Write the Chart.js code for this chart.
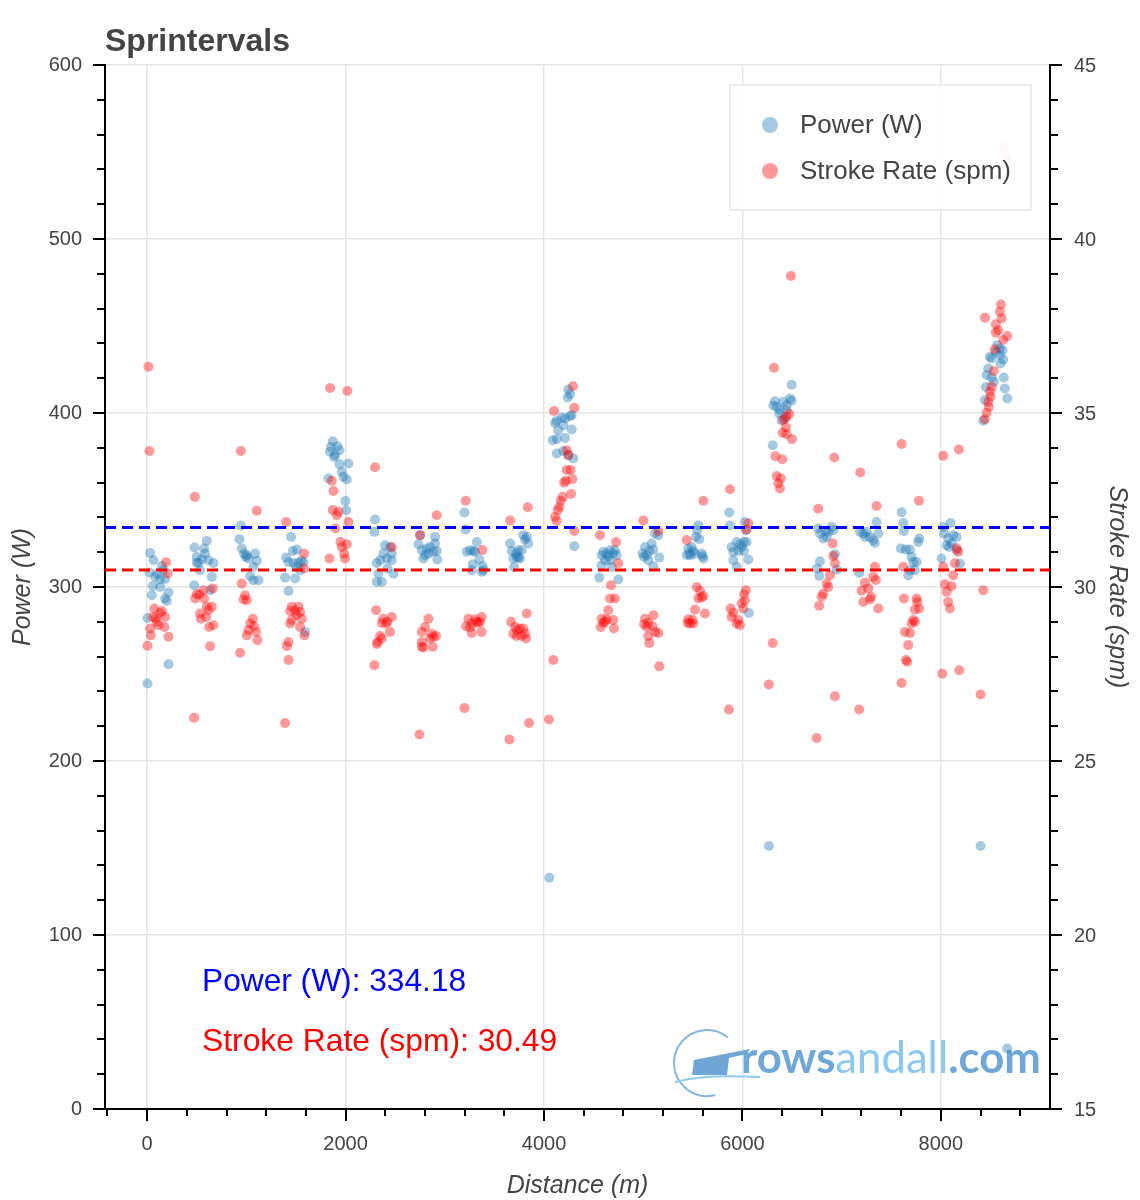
<!DOCTYPE html>
<html>
<head>
<meta charset="utf-8">
<title>Sprintervals</title>
<script src="https://cdn.jsdelivr.net/npm/chart.js@4.4.1/dist/chart.umd.min.js"></script>
<style>
  html, body { margin: 0; background: #fff; }
  #wrap { width: 1140px; height: 1200px; }
</style>
</head>
<body>
<div id="wrap"><canvas id="chart" width="1140" height="1200"></canvas></div>
<script>
// ---- data ----
const chartTitle = 'Sprintervals';
const xTitle = 'Distance (m)';
const yTitle = 'Power (W)';
const y2Title = 'Stroke Rate (spm)';

const xRange = [-425, 9100];
const xTickValues = [0, 2000, 4000, 6000, 8000];
const powerRange = [0, 600];
const rateRange = [15, 45];

const avgPower = 334.18;
const avgRate = 30.49;

const powerDist = [
  30, 64, 23, 148, 104, 164, 81, 131, 181, 57, 131, 215, 47, 181, 198, 3, 215, 3,
  477, 500, 574, 601, 584, 517, 618, 668, 534, 652, 474, 635, 551, 500,
  944, 930, 954, 977, 1004, 1021, 1088, 1105, 1071, 1038, 1071, 1122, 994,
  1401, 1451, 1468, 1508, 1424, 1474, 1525, 1552, 1575, 1501, 1542, 1390, 1491, 1424, 1592,
  1871, 1851, 1918, 1844, 1894, 1938, 1884, 1938, 2029, 1827, 1961, 1978, 2012, 1998, 2005,
  2297, 2290, 2398, 2381, 2448, 2466, 2348, 2415, 2466, 2314, 2331, 2314, 2365, 2482, 2421,
  2751, 2734, 2768, 2818, 2851, 2902, 2902, 2835, 2784, 2885, 2919, 2925, 2801,
  3198, 3211, 3221, 3255, 3288, 3322, 3305, 3349, 3382, 3282, 3272, 3372, 3389,
  3658, 3675, 3718, 3741, 3775, 3792, 3826, 3809, 3842, 3691, 3741, 3758, 3698, 3725,
  4245, 4262, 4239, 4179, 4128, 4111, 4212, 4262, 4279, 4144, 4195, 4279, 4088, 4128, 4212, 4128, 4195, 4245, 4296, 4305, 4054,
  4581, 4598, 4632, 4665, 4698, 4715, 4732, 4615, 4665, 4581, 4682, 4557, 4749, 4648,
  4994, 5018, 5085, 5119, 5152, 5035, 5061, 5102, 5051, 5102, 5162, 5008,
  5555, 5545, 5565, 5532, 5454, 5488, 5505, 5464, 5438, 5522, 5589, 5606, 5599, 5478,
  5867, 5874, 6025, 6035, 5891, 5942, 5975, 6015, 5992, 5908, 5958, 6042, 5908, 6059, 6015, 6066, 5942,
  6496, 6328, 6311, 6345, 6378, 6412, 6445, 6479, 6496, 6371, 6395, 6428, 6305, 6445, 6267,
  6764, 6781, 6815, 6849, 6865, 6899, 6916, 6781, 6754, 6774, 6932, 6949, 6832,
  7184, 7218, 7252, 7285, 7318, 7352, 7369, 7335, 7234, 7177,
  7604, 7621, 7628, 7597, 7648, 7688, 7722, 7755, 7738, 7688, 7671, 7772, 7782, 7705,
  8024, 8031, 8098, 8125, 8159, 8074, 8058, 8084, 8159, 8192, 8007, 8108, 8400,
  8568, 8595, 8622, 8494, 8511, 8595, 8628, 8602, 8477, 8461, 8511, 8534, 8635, 8454, 8645, 8444, 8669, 8427, 8554, 8669
];
const powerW = [
  319.6, 315.4, 308.3, 312, 307.7, 309.6, 305.8, 304.5, 304.6, 300.6, 300, 296.8, 295.3, 293.4, 292, 282.2, 255.6, 244.5,
  322.7, 317.3, 322.1, 326.5, 319.2, 313.8, 315.4, 313.8, 309.6, 305.8, 301, 298.1, 316, 314,
  335.3, 327.5, 322.1, 319.2, 318.3, 316.4, 319.2, 315, 311.5, 306.2, 303.9, 303.9, 317.3,
  316.9, 328.8, 320.7, 321.5, 314.4, 313.8, 313.8, 315, 314.4, 311.5, 309.6, 305.4, 304.9, 297.7, 274.2,
  383.8, 380.5, 380.9, 377.7, 375.8, 378.6, 374.8, 370.6, 371, 362.4, 366.2, 363.3, 361.8, 349.5, 344.1,
  338.8, 331.7, 324, 319.2, 323, 319.2, 315.4, 316.4, 315.4, 313.8, 307.7, 302.9, 302.9, 307.7, 310.6,
  329.8, 324.6, 321.1, 322.1, 323, 328.8, 325, 319.2, 316.4, 320.2, 320.7, 315.8, 318.3,
  342.8, 333, 320.2, 321.1, 320.7, 325.9, 320.2, 315.8, 311.9, 313.1, 309.6, 308.7, 309.6,
  325, 320.7, 319.2, 321.1, 321.1, 329.8, 328.8, 327.3, 325, 316.4, 316.9, 316.4, 311.5, 317.3,
  413.5, 410.8, 408.9, 397.4, 395.5, 394.3, 396.9, 398.2, 398.8, 390.1, 393, 390.5, 384.4, 385, 385.7, 376.7, 378.1, 375.8, 373.9, 323.4, 132.9,
  318.3, 320.2, 319.2, 321.1, 319.2, 321.1, 318.3, 315.4, 315.4, 312.5, 311.5, 305.4, 304.3, 317.7,
  319.2, 323, 325, 330.7, 329.8, 318.3, 320.7, 321.5, 315.4, 311.9, 316.9, 317.3,
  335.5, 332.6, 327.5, 328.8, 322.1, 323, 320.7, 319.2, 318.3, 319.2, 319.2, 316.4, 317.7, 318.3,
  342.8, 335.3, 337.4, 332.6, 323, 325.9, 324.6, 325.9, 323, 320.2, 320.7, 325.9, 315.4, 315.8, 320.7, 285.1, 311.5,
  416.2, 406.8, 404.3, 403.5, 401.6, 406.4, 404.5, 408.4, 407, 399.7, 395.9, 396.9, 381.5, 401.6, 151.1,
  333.6, 330.7, 327.9, 328.8, 331.7, 334.5, 332.6, 314.8, 310.6, 306.4, 318.8, 310, 332.2,
  331.7, 330.7, 331.7, 328.8, 326.9, 337.4, 330.7, 325.3, 328.8, 308.1,
  343, 336.8, 332.2, 322.1, 321.5, 321.5, 314.4, 314.4, 309.6, 309.6, 306.8, 325.9, 327.9, 317.3,
  334.5, 330.7, 336.8, 329.8, 328.8, 327.9, 324, 323, 321.1, 313.5, 316.4, 325, 151.1,
  439, 437.1, 436.1, 432.3, 431.4, 433.3, 430.8, 428.5, 425.6, 421.8, 420.4, 417.9, 420.4, 415, 414.1, 407.4, 408.4, 395.5, 435.2, 34.8
];

const rateDist = [
  13, 23, 191, 208, 71, 57, 148, 181, 97, 114, 30, 174, 37, 215, 3, 88, 131,
  481, 500, 527, 484, 568, 574, 601, 652, 534, 618, 594, 541, 668, 625, 635, 662, 474,
  944, 1105, 954, 987, 971, 1004, 1065, 1038, 1078, 1021, 1004, 1098, 1112, 937,
  1401, 1582, 1582, 1458, 1525, 1491, 1441, 1542, 1508, 1458, 1559, 1441, 1542, 1585, 1424, 1408, 1424, 1390,
  1844, 2018, 1861, 1878, 1871, 1928, 1911, 1898, 2029, 1948, 2012, 1961, 1985, 1995, 1837,
  2297, 2466, 2307, 2381, 2421, 2408, 2466, 2365, 2348, 2324, 2365, 2314, 2448, 2290,
  2919, 2751, 2835, 2801, 2768, 2885, 2868, 2851, 2912, 2768, 2784, 2878, 2768, 2744,
  3211, 3379, 3238, 3272, 3322, 3355, 3372, 3214, 3255, 3272, 3372, 3198, 3305, 3338,
  3658, 3836, 3668, 3708, 3731, 3758, 3792, 3809, 3691, 3725, 3775, 3819, 3826, 3651, 3849,
  4101, 4292, 4305, 4229, 4245, 4229, 4269, 4202, 4222, 4286, 4272, 4188, 4168, 4155, 4138, 4111, 4128, 4305, 4094, 4050,
  4564, 4726, 4749, 4675, 4665, 4715, 4648, 4581, 4615, 4632, 4698, 4571, 4705, 4598,
  5001, 5152, 5102, 5018, 5051, 5008, 5095, 5119, 5152, 5051, 5061, 5162, 5035,
  5606, 5438, 5539, 5572, 5606, 5555, 5589, 5522, 5622, 5454, 5498, 5471, 5505, 5448,
  5874, 6059, 6042, 6015, 6035, 6025, 5992, 5881, 5908, 5891, 5958, 5942, 5975, 6008, 5864,
  6318, 6489, 6472, 6445, 6412, 6439, 6405, 6445, 6499, 6332, 6402, 6345, 6388, 6361, 6378, 6305, 6267,
  6764, 6925, 6909, 6916, 6932, 6882, 6849, 6865, 6815, 6798, 6774, 6932, 6748,
  7188, 7352, 7335, 7318, 7345, 7234, 7268, 7201, 7298, 7218, 7285, 7369, 7177,
  7604, 7779, 7621, 7628, 7755, 7762, 7782, 7738, 7722, 7705, 7738, 7688, 7638, 7671, 7648, 7661, 7604,
  8024, 8182, 8159, 8176, 8142, 8024, 8125, 8041, 8108, 8058, 8074, 8091, 8427, 8014, 8185, 8400,
  8605, 8595, 8612, 8444, 8554, 8578, 8554, 8669, 8628, 8544, 8534, 8511, 8494, 8501, 8477, 8461, 8444, 8484, 8635, 8665
];
const rateSpm = [
  36.33, 33.91, 30.71, 30.39, 29.38, 29.14, 29.31, 29.14, 29.0, 28.9, 28.81, 28.85, 28.61, 28.57, 28.31, 29.1, 29.25,
  32.59, 29.79, 29.79, 29.67, 29.91, 29.67, 29.43, 29.43, 29.24, 29.33, 29.14, 29.09, 28.9, 28.85, 28.3, 29.96, 26.24,
  33.91, 32.19, 30.1, 29.76, 29.64, 29.62, 29.09, 28.95, 28.87, 28.76, 28.61, 28.71, 28.47, 28.11,
  31.87, 30.96, 30.53, 29.43, 29.43, 29.31, 29.31, 29.28, 29.19, 29.05, 29.09, 28.95, 28.85, 28.61, 28.42, 28.3, 27.9, 26.09,
  35.72, 35.63, 33.05, 32.76, 32.21, 32.16, 32.06, 31.68, 31.87, 31.3, 31.23, 31.15, 30.96, 30.82, 30.82,
  33.44, 31.14, 29.33, 29.09, 29.0, 28.95, 29.14, 28.97, 28.59, 28.42, 28.52, 28.36, 28.71, 27.75,
  32.06, 31.49, 29.09, 28.85, 28.71, 28.57, 28.66, 28.52, 28.59, 28.42, 28.26, 28.28, 28.28, 25.76,
  32.48, 31.06, 29.09, 28.95, 29.0, 29.0, 29.14, 28.87, 28.84, 28.68, 28.71, 26.52, 29.07, 28.97,
  31.91, 32.29, 29.0, 28.85, 28.76, 28.81, 28.81, 28.66, 28.66, 28.59, 28.59, 28.52, 29.24, 25.62, 26.09,
  35.06, 35.77, 35.15, 33.93, 33.79, 33.36, 33.36, 33.0, 33.05, 33.1, 32.67, 32.59, 32.48, 32.3, 32.21, 32.02, 31.9, 31.61, 27.9, 26.19,
  31.49, 31.29, 30.68, 30.05, 29.67, 29.67, 29.33, 29.09, 29.0, 29.07, 29.05, 28.85, 28.81, 28.97,
  31.91, 31.61, 29.19, 29.09, 28.97, 28.93, 28.87, 28.71, 28.68, 28.59, 28.39, 27.72, 28.85,
  32.48, 31.35, 30.0, 29.89, 29.74, 29.67, 29.7, 29.35, 29.24, 29.07, 29.05, 28.95, 28.95, 28.97,
  32.81, 31.83, 31.65, 29.79, 29.91, 29.62, 29.53, 29.38, 29.26, 29.14, 29.05, 28.95, 28.9, 29.38, 26.48,
  36.3, 38.94, 34.97, 34.89, 34.8, 34.59, 34.43, 34.39, 34.25, 33.76, 33.67, 33.19, 33.12, 32.98, 32.83, 28.39, 27.2,
  32.25, 33.72, 31.25, 30.89, 30.68, 30.34, 30.1, 30.0, 29.81, 29.72, 29.46, 26.86, 25.66,
  33.29, 32.33, 30.58, 30.29, 30.2, 30.12, 29.96, 29.89, 29.72, 29.57, 29.64, 29.38, 26.48,
  34.11, 32.48, 30.58, 29.67, 29.67, 29.57, 29.38, 29.35, 29.05, 28.95, 29.0, 28.68, 28.71, 28.33, 27.9, 27.85, 27.24,
  33.77, 33.95, 31.11, 31.01, 30.68, 30.58, 30.34, 30.08, 30.02, 29.86, 29.57, 29.38, 29.91, 27.51, 27.61, 26.91,
  38.12, 37.91, 37.72, 37.74, 37.55, 37.38, 37.31, 37.21, 37.1, 36.83, 36.21, 35.75, 35.61, 35.47, 35.32, 35.01, 34.82, 35.18, 42.67, 42.33
];

// ---- styling ----
const FONT = "'Liberation Sans', Arial, Helvetica, sans-serif";
const TEXT = '#444444';
const POWER_DOT = 'rgba(31,119,180,0.4)';
const RATE_DOT = 'rgba(255,0,0,0.4)';

const toXY = (xs, ys) => xs.map((x, i) => ({ x, y: ys[i] }));

// extra drawing: minor/major ticks, titles, legend, annotations, logo
const decor = {
  id: 'decor',
  beforeDatasetsDraw(chart) {
    const ctx = chart.ctx;
    ctx.save();
    // rowsandall logo (watermark)
    ctx.strokeStyle = '#86b6df';
    ctx.lineWidth = 2;
    ctx.beginPath();
    ctx.arc(707, 1063, 33, -0.28 * Math.PI, 0.42 * Math.PI, true);
    ctx.stroke();
    ctx.fillStyle = '#6fa6d6';
    ctx.beginPath();
    ctx.moveTo(694, 1060); ctx.lineTo(750, 1049); ctx.lineTo(746, 1054);
    ctx.lineTo(729, 1058); ctx.lineTo(727, 1075); ctx.lineTo(692, 1075);
    ctx.closePath(); ctx.fill();
    ctx.strokeStyle = '#8fcbef';
    ctx.beginPath();
    ctx.moveTo(675, 1082); ctx.quadraticCurveTo(705, 1074, 760, 1077);
    ctx.stroke();
    const parts = [['rows', 'bold', '#6fa8d8'], ['andall', 'normal', '#8ac8ef'], ['.com', 'bold', '#6fa8d8']];
    let size = 40;
    const measure = s => parts.reduce((w, p) => { ctx.font = p[1] + ' ' + s + 'px Lato, ' + FONT; return w + ctx.measureText(p[0]).width; }, 0);
    size = size * 300 / measure(size);
    let x = 741;
    ctx.textBaseline = 'alphabetic';
    for (const p of parts) {
      ctx.font = p[1] + ' ' + size + 'px Lato, ' + FONT;
      ctx.fillStyle = p[2];
      ctx.fillText(p[0], x, 1073);
      x += ctx.measureText(p[0]).width;
    }
    ctx.restore();
  },
  afterDatasetsDraw(chart) {
    const ctx = chart.ctx;
    ctx.save();
    // legend box inside the plot
    ctx.fillStyle = 'rgba(255,255,255,0.92)';
    ctx.fillRect(730, 85, 301, 125);
    ctx.strokeStyle = '#e8e8e8';
    ctx.lineWidth = 1.5;
    ctx.strokeRect(730, 85, 301, 125);
    const items = [[yTitle, POWER_DOT, 125], [y2Title, RATE_DOT, 171]];
    ctx.font = '26px ' + FONT;
    ctx.textBaseline = 'middle';
    for (const [label, col, y] of items) {
      ctx.fillStyle = col;
      ctx.beginPath(); ctx.arc(770, y, 8, 0, 2 * Math.PI); ctx.fill();
      ctx.fillStyle = TEXT;
      ctx.fillText(label, 800, y + 1);
    }
    ctx.restore();
  },
  afterDraw(chart) {
    const ctx = chart.ctx;
    const { x, y, y2 } = chart.scales;
    const a = chart.chartArea;
    ctx.save();
    ctx.strokeStyle = '#000';
    ctx.lineWidth = 2;
    ctx.beginPath();
    // x ticks: major every 2000, minor every 400
    for (let v = Math.ceil(xRange[0] / 400) * 400; v <= xRange[1]; v += 400) {
      const px = Math.round(x.getPixelForValue(v));
      const len = v % 2000 === 0 ? 12 : 7;
      ctx.moveTo(px, a.bottom); ctx.lineTo(px, a.bottom + len);
    }
    // left y ticks: major 100, minor 20
    for (let v = powerRange[0]; v <= powerRange[1]; v += 20) {
      const py = Math.round(y.getPixelForValue(v));
      const len = v % 100 === 0 ? 12 : 8;
      ctx.moveTo(a.left, py); ctx.lineTo(a.left - len, py);
    }
    // right y ticks: major 5, minor 1
    for (let v = rateRange[0]; v <= rateRange[1]; v += 1) {
      const py = Math.round(y2.getPixelForValue(v));
      const len = v % 5 === 0 ? 12 : 8;
      ctx.moveTo(a.right, py); ctx.lineTo(a.right + len, py);
    }
    ctx.stroke();

    // right axis tick labels
    ctx.fillStyle = TEXT;
    ctx.font = '20px ' + FONT;
    ctx.textAlign = 'left';
    ctx.textBaseline = 'middle';
    for (const t of y2.ticks) {
      ctx.fillText(String(t.value), a.right + 24, y2.getPixelForValue(t.value) + 1);
    }

    // titles
    ctx.font = 'bold 32px ' + FONT;
    ctx.textAlign = 'left';
    ctx.textBaseline = 'alphabetic';
    ctx.fillText(chartTitle, 105, 51);

    ctx.font = 'italic 25px ' + FONT;
    ctx.textAlign = 'center';
    ctx.textBaseline = 'middle';
    ctx.fillText(xTitle, (a.left + a.right) / 2, 1186);
    ctx.save();
    ctx.translate(23, (a.top + a.bottom) / 2);
    ctx.rotate(-Math.PI / 2);
    ctx.fillText(yTitle, 0, 0);
    ctx.restore();
    ctx.save();
    ctx.translate(1117, (a.top + a.bottom) / 2);
    ctx.rotate(Math.PI / 2);
    ctx.fillText(y2Title, 0, 0);
    ctx.restore();

    // averages as text
    ctx.textAlign = 'left';
    ctx.textBaseline = 'alphabetic';
    ctx.font = '31.7px ' + FONT;
    ctx.fillStyle = '#0000ff';
    ctx.fillText(yTitle + ': ' + avgPower.toFixed(2), 202, 991);
    ctx.font = '31.8px ' + FONT;
    ctx.fillStyle = '#ff0000';
    ctx.fillText(y2Title + ': ' + avgRate.toFixed(2), 202, 1051);
    ctx.restore();
  }
};

const tickFont = { family: FONT, size: 20 };

new Chart(document.getElementById('chart'), {
  type: 'scatter',
  data: {
    datasets: [
      {
        label: yTitle,
        data: toXY(powerDist, powerW),
        yAxisID: 'y',
        backgroundColor: POWER_DOT,
        borderWidth: 0,
        pointRadius: 5,
        order: 3
      },
      {
        label: y2Title,
        data: toXY(rateDist, rateSpm),
        yAxisID: 'y2',
        backgroundColor: RATE_DOT,
        borderWidth: 0,
        pointRadius: 5,
        order: 2
      },
      {
        type: 'line',
        label: 'avg power',
        data: toXY(xRange, [avgPower, avgPower]),
        yAxisID: 'y',
        borderColor: '#0000ff',
        borderWidth: 3,
        borderDash: [11, 6],
        pointRadius: 0,
        order: 1
      },
      {
        type: 'line',
        label: 'avg rate',
        data: toXY(xRange, [avgRate, avgRate]),
        yAxisID: 'y2',
        borderColor: '#ff0000',
        borderWidth: 3,
        borderDash: [11, 6],
        pointRadius: 0,
        order: 0
      }
    ]
  },
  options: {
    responsive: false,
    animation: false,
    devicePixelRatio: 1,
    layout: { padding: { top: 65, left: 0, right: 0, bottom: 0 } },
    plugins: {
      legend: { display: false },
      tooltip: { enabled: false },
      title: { display: false }
    },
    scales: {
      x: {
        type: 'linear',
        min: xRange[0],
        max: xRange[1],
        afterBuildTicks(s) { s.ticks = xTickValues.map(v => ({ value: v })); },
        ticks: { color: TEXT, font: tickFont, padding: 23, maxRotation: 0, callback: v => String(v) },
        grid: { color: '#e5e5e5', lineWidth: 1.5, drawTicks: false },
        border: { color: '#000', width: 2 },
        afterFit(s) { s.height = 91; }
      },
      y: {
        position: 'left',
        min: powerRange[0],
        max: powerRange[1],
        ticks: { stepSize: 100, color: TEXT, font: tickFont, padding: 23 },
        grid: { color: '#e5e5e5', lineWidth: 1.5, drawTicks: false },
        border: { color: '#000', width: 2 },
        afterFit(s) { s.width = 105; }
      },
      y2: {
        position: 'right',
        min: rateRange[0],
        max: rateRange[1],
        ticks: { stepSize: 5, display: false },
        grid: { drawOnChartArea: false, drawTicks: false },
        border: { color: '#000', width: 2 },
        afterFit(s) { s.width = 90; }
      }
    }
  },
  plugins: [decor]
});
</script>
</body>
</html>
